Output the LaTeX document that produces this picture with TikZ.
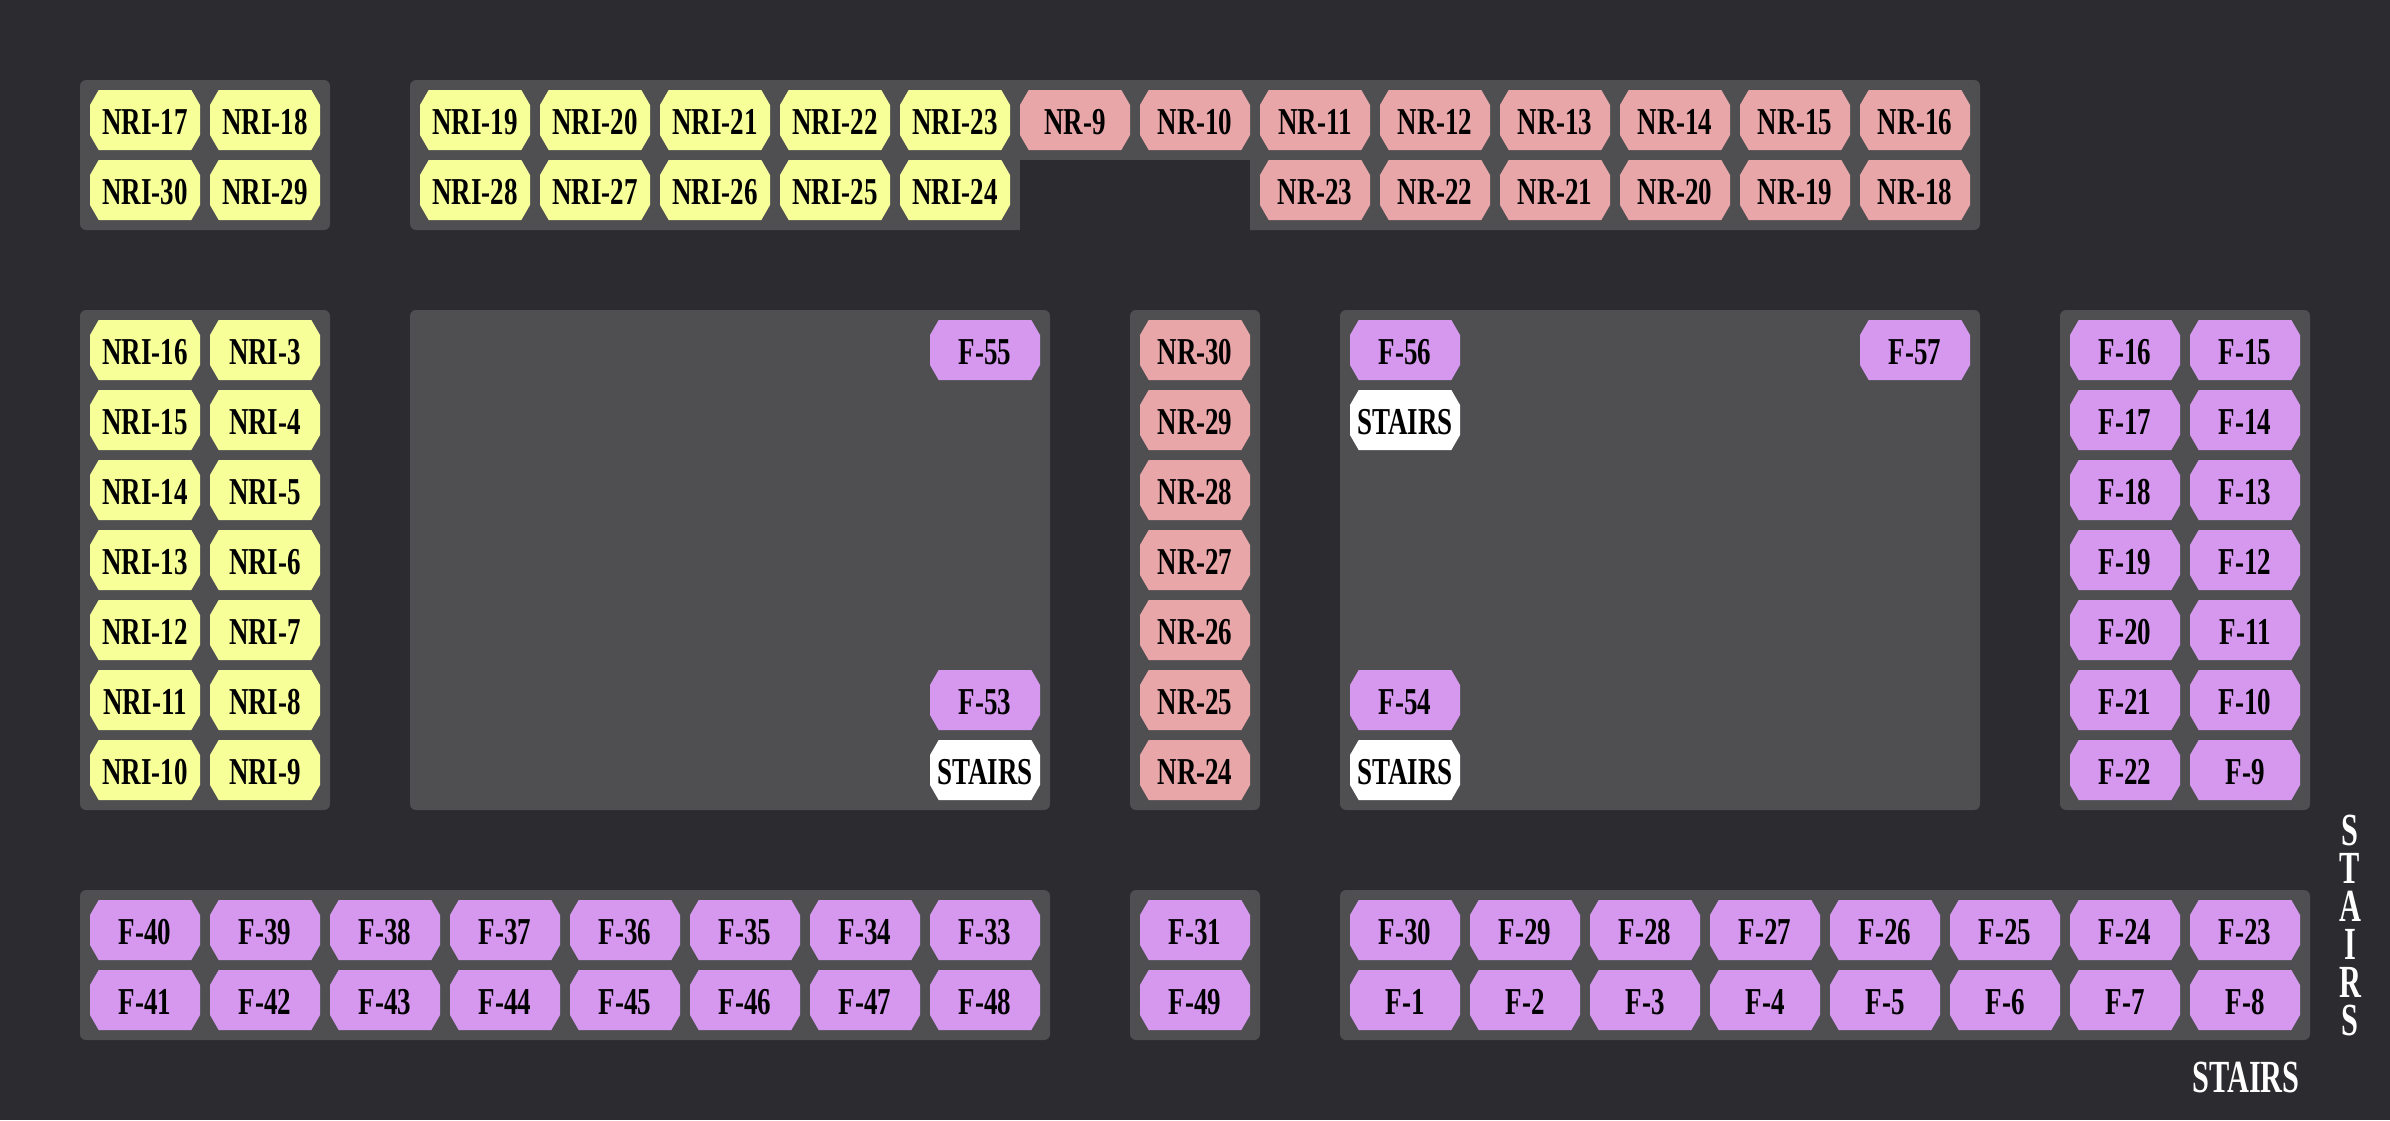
\documentclass[tikz,border=0pt]{standalone}
\usepackage{fontspec}
\newfontfamily\seatfont[FakeStretch=0.71]{Liberation Serif}
\newfontfamily\stairfont[FakeStretch=0.66]{Liberation Serif}
\usetikzlibrary{shapes.misc}
\definecolor{hallbg}{HTML}{2C2C30}
\definecolor{blockbg}{HTML}{4F4F52}
\definecolor{nriyellow}{HTML}{F7FF98}
\definecolor{nrpink}{HTML}{E9A6A8}
\definecolor{fpurple}{HTML}{D598EE}
\tikzset{
    block/.style={fill=blockbg,rounded corners=6pt},
    seat/.style={chamfered rectangle,chamfered rectangle angle=30,chamfered rectangle xsep=7pt,
        minimum width=110pt,minimum height=60pt,inner sep=0pt,outer sep=0pt,
        text height=29pt,text depth=0pt,text=black,font=\seatfont\bfseries\fontsize{38}{38}\selectfont},
    nriseat/.style={seat,fill=nriyellow},
    nrseat/.style={seat,fill=nrpink},
    fseat/.style={seat,fill=fpurple},
    stairseat/.style={seat,fill=white},
    stairtext/.style={text=white,inner sep=0pt,font=\stairfont\bfseries\fontsize{46}{38}\selectfont}
}
\begin{document}
\begin{tikzpicture}[x=1pt,y=-1pt]
    \fill[hallbg] (0,0) rectangle (2390,1120);
    \useasboundingbox (0,0) rectangle (2390,1120);
    % blocks
    \fill[block] (80,80) rectangle (330,230);
    \fill[block] (410,80) rectangle (1980,230);
    \fill[hallbg] (1020,160) rectangle (1250,235);
    \fill[block] (80,310) rectangle (330,810);
    \fill[block] (410,310) rectangle (1050,810);
    \fill[block] (1130,310) rectangle (1260,810);
    \fill[block] (1340,310) rectangle (1980,810);
    \fill[block] (2060,310) rectangle (2310,810);
    \fill[block] (80,890) rectangle (1050,1040);
    \fill[block] (1130,890) rectangle (1260,1040);
    \fill[block] (1340,890) rectangle (2310,1040);
    % top rows
    \foreach \n [count=\i from 0] in {NRI-17,NRI-18}
        \node[nriseat] (\n) at (145+120*\i,120) {\n};
    \foreach \n [count=\i from 0] in {NRI-30,NRI-29}
        \node[nriseat] (\n) at (145+120*\i,190) {\n};
    \foreach \n [count=\i from 0] in {NRI-19,NRI-20,NRI-21,NRI-22,NRI-23}
        \node[nriseat] (\n) at (475+120*\i,120) {\n};
    \foreach \n [count=\i from 0] in {NRI-28,NRI-27,NRI-26,NRI-25,NRI-24}
        \node[nriseat] (\n) at (475+120*\i,190) {\n};
    \foreach \n [count=\i from 0] in {NR-9,NR-10,NR-11,NR-12,NR-13,NR-14,NR-15,NR-16}
        \node[nrseat] (\n) at (1075+120*\i,120) {\n};
    \foreach \n [count=\i from 0] in {NR-23,NR-22,NR-21,NR-20,NR-19,NR-18}
        \node[nrseat] (\n) at (1315+120*\i,190) {\n};
    % side columns
    \foreach \n [count=\i from 0] in {NRI-16,NRI-15,NRI-14,NRI-13,NRI-12,NRI-11,NRI-10}
        \node[nriseat] (\n) at (145,350+70*\i) {\n};
    \foreach \n [count=\i from 0] in {NRI-3,NRI-4,NRI-5,NRI-6,NRI-7,NRI-8,NRI-9}
        \node[nriseat] (\n) at (265,350+70*\i) {\n};
    \foreach \n [count=\i from 0] in {NR-30,NR-29,NR-28,NR-27,NR-26,NR-25,NR-24}
        \node[nrseat] (\n) at (1195,350+70*\i) {\n};
    \foreach \n [count=\i from 0] in {F-16,F-17,F-18,F-19,F-20,F-21,F-22}
        \node[fseat] (\n) at (2125,350+70*\i) {\n};
    \foreach \n [count=\i from 0] in {F-15,F-14,F-13,F-12,F-11,F-10,F-9}
        \node[fseat] (\n) at (2245,350+70*\i) {\n};
    % inside the big blocks
    \node[fseat] (F-55) at (985,350) {F-55};
    \node[fseat] (F-53) at (985,700) {F-53};
    \node[stairseat] (stairs1) at (985,770) {STAIRS};
    \node[fseat] (F-56) at (1405,350) {F-56};
    \node[stairseat] (stairs2) at (1405,420) {STAIRS};
    \node[fseat] (F-54) at (1405,700) {F-54};
    \node[stairseat] (stairs3) at (1405,770) {STAIRS};
    \node[fseat] (F-57) at (1915,350) {F-57};
    % bottom rows
    \foreach \n [count=\i from 0] in {F-40,F-39,F-38,F-37,F-36,F-35,F-34,F-33}
        \node[fseat] (\n) at (145+120*\i,930) {\n};
    \foreach \n [count=\i from 0] in {F-41,F-42,F-43,F-44,F-45,F-46,F-47,F-48}
        \node[fseat] (\n) at (145+120*\i,1000) {\n};
    \node[fseat] (F-31) at (1195,930) {F-31};
    \node[fseat] (F-49) at (1195,1000) {F-49};
    \foreach \n [count=\i from 0] in {F-30,F-29,F-28,F-27,F-26,F-25,F-24,F-23}
        \node[fseat] (\n) at (1405+120*\i,930) {\n};
    \foreach \n [count=\i from 1] in {F-1,F-2,F-3,F-4,F-5,F-6,F-7,F-8}
        \node[fseat] (\n) at (1285+120*\i,1000) {\n};
    % loose labels
    \node[stairtext] (stairsh) at (2246,1077) {STAIRS};
    \node[stairtext,align=center] (stairsv) at (2350,925) {S\\T\\A\\I\\R\\S};
\end{tikzpicture}
\end{document}
